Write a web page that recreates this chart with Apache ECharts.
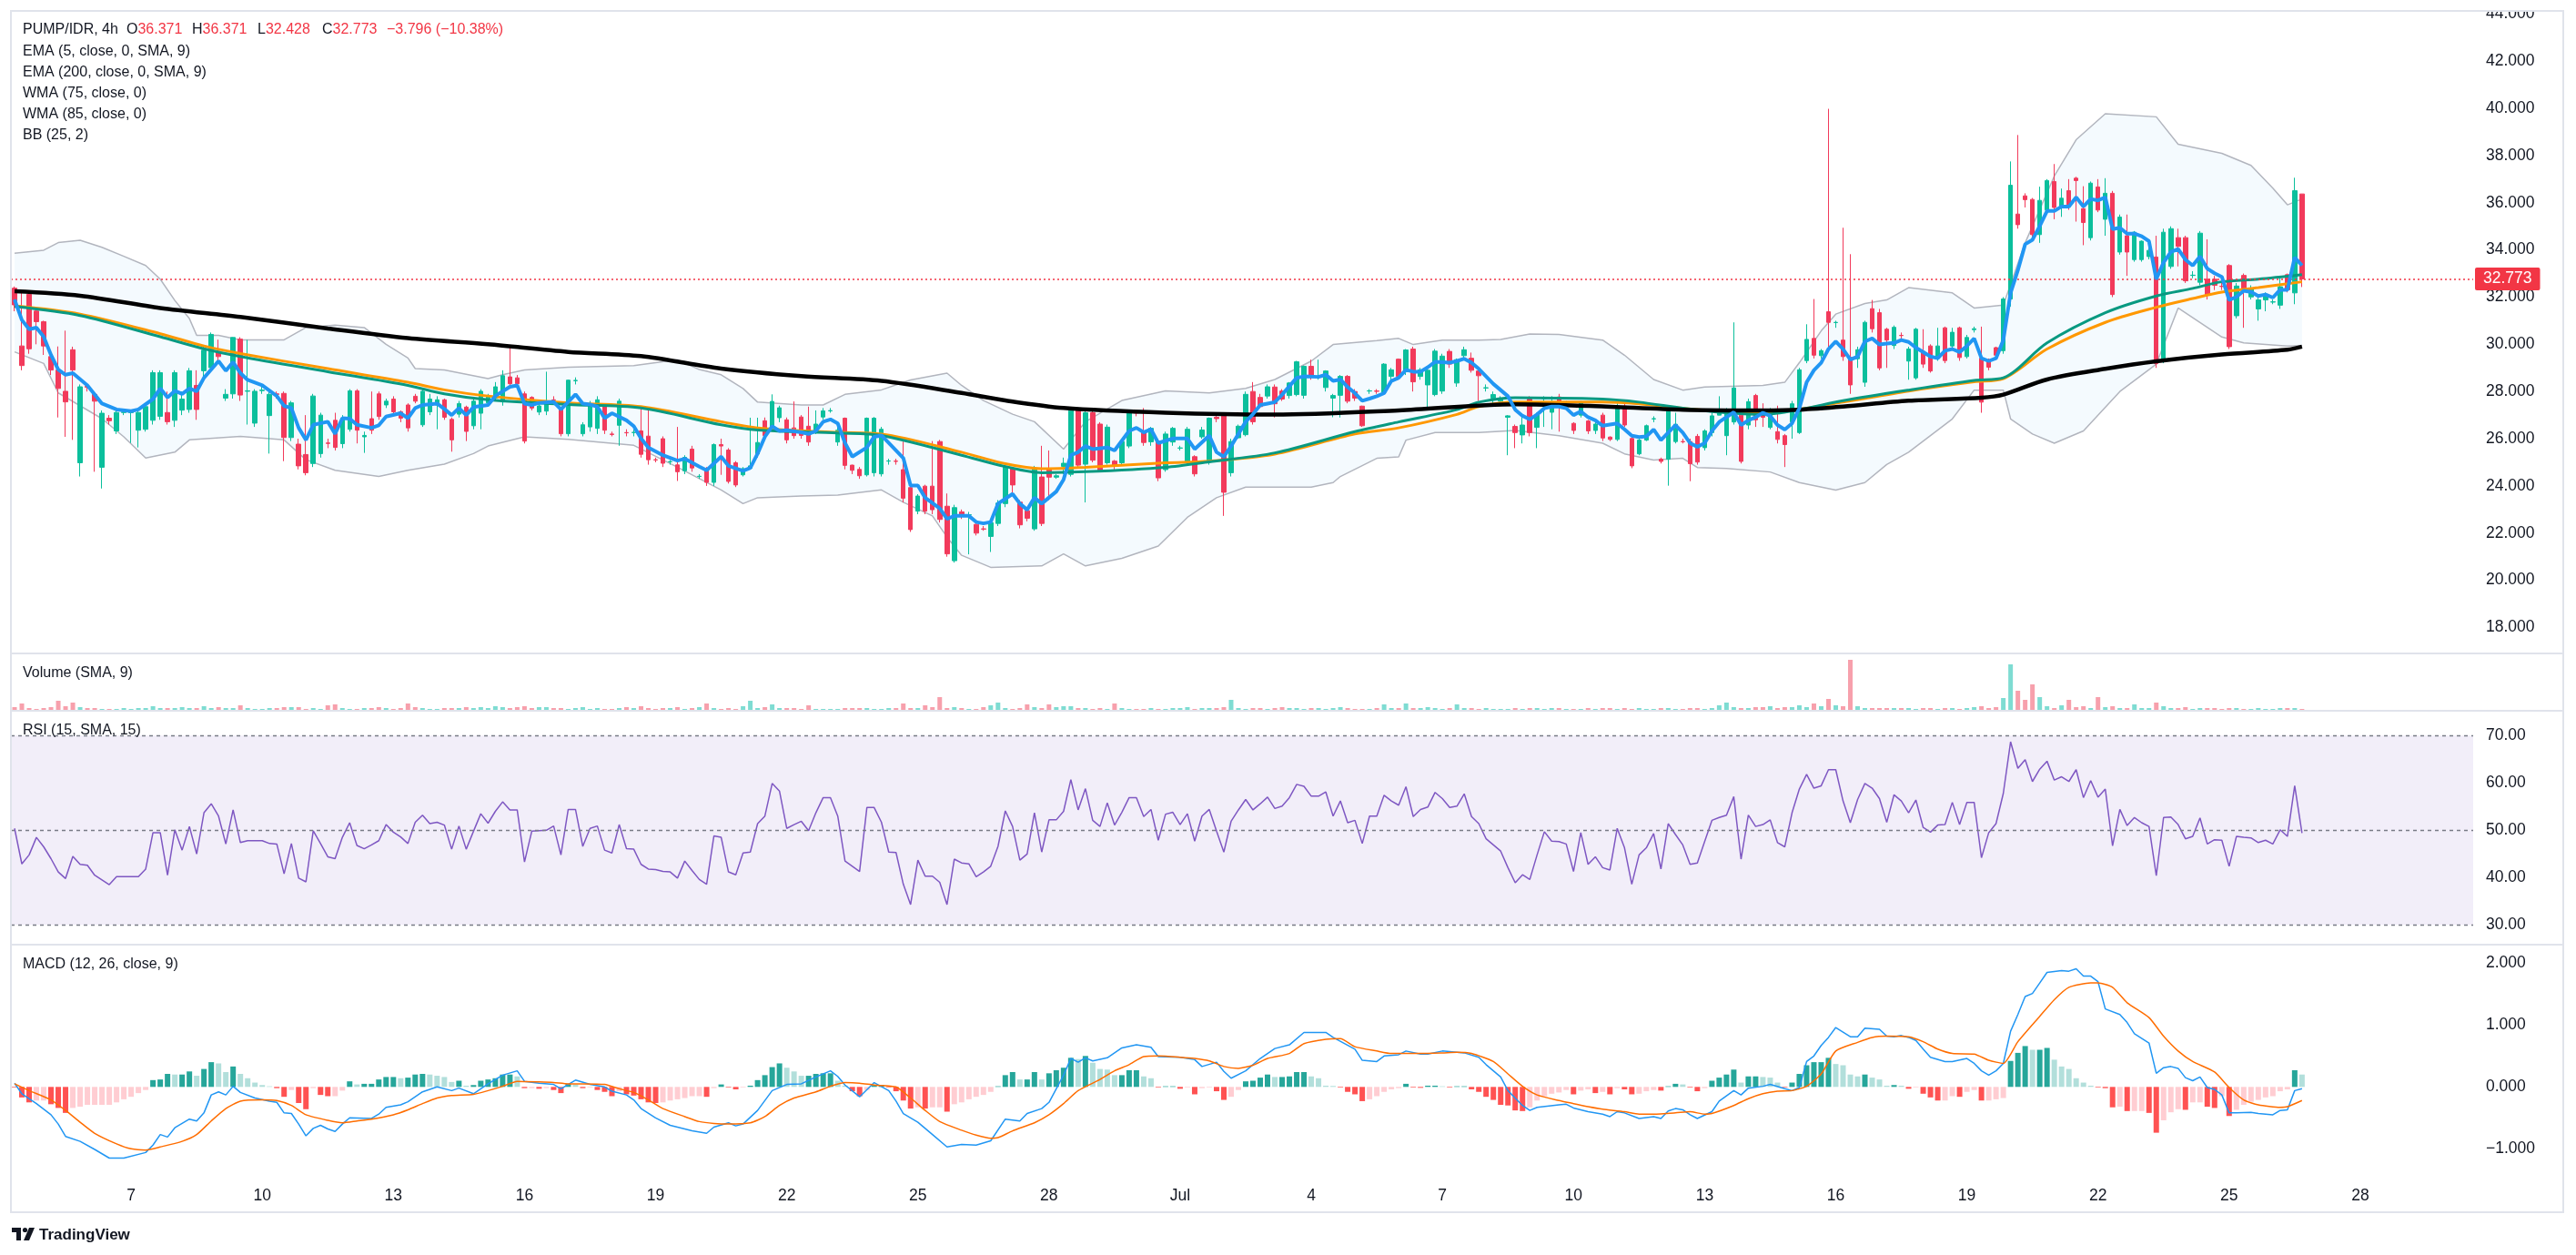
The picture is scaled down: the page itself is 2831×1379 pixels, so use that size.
<!DOCTYPE html>
<html>
<head>
<meta charset="utf-8">
<title>PUMP/IDR 4h</title>
<script src="https://cdn.jsdelivr.net/npm/echarts@6.0.0/dist/echarts.min.js"></script>
<style>
  html, body { margin: 0; padding: 0; background: #ffffff; }
  #chart { width: 2831px; height: 1379px; }
</style>
</head>
<body>
<div id="chart"></div>
<script>
// 4h candles, June 4 08:00 -> July 26 16:00 : [open, close, low, high]
var candles = [
  [32.38,31.67,31.40,32.45],[29.93,29.10,28.90,32.25],[32.12,29.81,29.60,32.20],[31.41,30.96,30.00,31.50],[30.96,29.93,29.55,31.00],
  [29.48,28.91,28.70,29.60],[28.91,28.13,26.90,29.91],[28.01,27.56,26.08,30.58],[29.77,28.91,25.95,29.90],[24.98,28.20,24.40,28.30],
  [28.22,28.18,28.00,28.30],[27.88,27.59,24.60,27.95],[24.79,27.08,23.89,27.20],[26.87,26.76,26.60,27.00],[26.33,27.11,26.20,27.20],
  [27.11,27.13,27.00,27.20],[27.11,27.12,25.82,27.20],[26.36,27.11,25.63,27.20],[26.40,27.36,26.30,27.50],[26.78,28.80,26.60,28.90],
  [26.95,28.80,26.80,28.90],[27.11,26.72,26.60,28.00],[26.78,28.80,26.50,28.90],[27.21,27.68,27.00,28.00],[27.24,28.88,27.10,29.00],
  [28.26,27.24,26.80,28.90],[28.88,29.75,28.40,29.90],[29.01,30.42,28.90,30.50],[29.70,29.48,29.20,30.20],[27.72,27.88,27.60,28.10],
  [27.90,30.29,27.70,30.30],[30.22,27.85,27.60,30.30],[28.01,28.03,26.60,30.19],[26.66,28.01,26.50,28.10],[28.04,28.06,27.90,28.20],
  [26.98,27.88,25.37,28.00],[27.90,27.88,27.70,28.00],[27.92,26.05,25.05,28.00],[26.05,27.52,25.90,27.60],[25.77,24.85,24.70,26.00],
  [25.33,24.56,24.45,27.00],[24.95,27.81,24.80,27.90],[25.37,27.00,25.20,27.10],[25.82,25.80,25.60,26.00],[26.78,25.63,25.50,27.10],
  [25.79,26.87,25.60,27.00],[26.40,28.03,26.30,28.10],[28.03,26.36,25.80,28.10],[26.08,26.14,25.40,26.30],[26.85,26.36,26.20,28.00],
  [27.90,26.94,26.80,28.00],[27.43,27.59,27.30,27.70],[27.68,27.14,27.00,27.80],[27.14,26.87,26.70,27.20],[27.43,26.46,26.30,27.50],
  [27.80,27.59,27.50,27.90],[26.59,28.01,26.50,28.10],[27.14,27.68,27.00,27.90],[27.43,27.65,26.40,27.80],[27.65,26.91,26.80,27.70],
  [26.82,25.95,25.45,26.90],[27.04,27.49,26.90,27.60],[27.34,26.31,25.90,27.40],[26.55,27.59,26.40,27.70],[27.08,28.01,26.40,28.10],
  [27.52,27.81,27.40,27.90],[27.72,28.20,27.60,28.40],[27.56,28.67,27.40,28.90],[28.62,28.33,28.20,29.91],[28.58,28.33,28.20,28.70],
  [27.90,25.90,25.80,28.00],[27.75,27.30,27.20,27.80],[27.13,27.39,27.00,27.50],[27.17,27.59,27.00,28.84],[27.65,27.64,27.50,27.80],
  [27.24,26.21,26.10,27.30],[26.21,28.48,26.10,28.50],[28.46,28.47,28.30,28.60],[26.21,26.59,26.10,26.70],[26.50,27.45,26.30,27.60],
  [26.44,27.65,26.20,27.80],[27.45,26.36,26.20,27.50],[26.20,26.18,26.10,26.30],[26.57,27.59,25.70,27.70],[26.26,26.25,26.10,26.40],
  [26.26,26.27,26.10,26.40],[26.33,25.34,25.20,27.36],[26.11,25.11,24.90,27.26],[25.11,25.10,25.00,25.20],[26.00,24.96,24.80,26.10],
  [25.02,25.03,24.90,25.10],[24.89,24.60,24.21,26.50],[24.64,25.21,24.50,25.30],[25.56,24.76,24.60,25.70],[24.40,24.41,24.30,24.50],
  [24.75,24.15,24.00,24.80],[24.15,25.75,24.00,25.80],[25.75,25.69,24.47,26.00],[25.52,24.19,24.10,25.60],[24.98,24.04,23.95,25.05],
  [24.47,24.73,24.40,24.80],[24.75,24.85,24.70,26.89],[25.36,25.84,25.20,26.89],[26.76,26.13,26.00,26.90],[26.40,27.58,26.30,27.88],
  [26.89,27.31,26.70,27.40],[26.80,25.95,25.80,26.90],[26.46,26.13,26.00,27.58],[26.92,26.14,26.00,27.00],[26.53,25.86,25.70,27.36],
  [26.33,26.62,26.20,27.20],[26.92,27.18,26.80,27.30],[27.18,27.19,27.10,27.30],[25.86,26.36,25.70,26.50],[26.87,24.87,24.70,26.90],
  [24.88,24.66,24.50,24.90],[24.70,24.43,24.30,24.80],[24.47,26.87,24.40,26.90],[24.56,26.87,24.40,26.92],[24.51,26.40,24.40,26.50],
  [25.05,25.06,24.90,25.15],[25.05,25.04,24.90,25.15],[24.69,23.48,23.30,25.88],[23.93,22.15,22.05,24.00],[22.93,23.57,22.80,23.65],
  [23.99,22.93,22.80,24.05],[23.99,22.99,22.80,25.90],[25.88,22.58,22.45,25.95],[23.14,21.12,21.00,23.68],[20.83,23.08,20.75,23.20],
  [22.90,22.77,22.60,23.00],[22.77,22.78,21.10,22.90],[22.37,22.00,21.90,22.50],[22.18,22.17,22.10,22.30],[21.86,22.44,21.20,22.50],
  [22.41,23.27,22.30,23.40],[23.25,24.83,23.10,24.90],[24.73,24.04,23.60,24.80],[23.31,22.35,22.20,23.40],[22.95,22.63,22.50,23.00],
  [22.18,24.73,22.10,24.85],[24.38,22.41,22.30,25.70],[24.75,24.37,23.40,25.50],[24.37,24.43,24.30,24.50],[24.83,24.96,24.50,25.20],
  [24.49,27.19,24.40,27.30],[27.19,24.88,24.80,27.30],[24.92,27.10,23.30,27.20],[27.10,25.09,25.00,27.20],[26.62,24.66,24.60,26.70],
  [24.98,26.49,24.90,26.60],[25.05,24.85,24.70,25.10],[24.98,25.88,24.90,26.00],[25.69,27.10,25.60,27.20],[27.10,27.09,26.95,27.20],
  [26.27,25.84,25.70,27.30],[25.87,26.44,25.70,26.50],[25.88,24.34,24.20,26.00],[24.69,26.20,24.60,26.30],[25.86,26.44,25.70,26.50],
  [25.60,25.61,25.50,25.70],[25.02,26.40,24.90,26.50],[25.24,24.51,24.40,25.30],[26.08,26.37,26.00,26.50],[25.02,26.87,24.90,26.90],
  [26.91,26.85,26.70,27.00],[27.00,23.73,22.73,27.10],[24.56,25.88,24.40,26.00],[26.04,26.53,26.00,26.60],[26.17,27.88,26.10,28.00],
  [28.00,26.72,26.60,28.40],[27.75,27.36,27.30,27.90],[27.81,28.20,27.70,28.30],[28.19,27.48,26.90,28.30],[28.02,27.68,27.60,28.10],
  [27.83,28.36,27.70,28.40],[27.87,29.26,27.80,29.30],[27.84,29.07,27.70,29.10],[29.07,28.62,28.50,29.35],[28.64,28.65,28.50,29.35],
  [28.17,28.87,28.00,28.90],[27.72,27.83,26.91,27.90],[27.84,28.64,26.90,28.70],[28.64,27.59,27.50,28.70],[28.00,27.72,27.60,28.10],
  [27.38,26.55,26.50,27.40],[28.02,28.03,27.90,28.10],[28.02,28.01,27.90,28.10],[27.97,29.16,27.90,29.20],[28.64,28.92,28.50,29.00],
  [29.37,28.64,28.50,29.40],[28.84,29.76,28.70,29.80],[29.80,28.41,28.00,29.90],[28.64,28.92,28.50,29.00],[28.28,28.90,27.20,29.00],
  [27.87,29.71,27.80,29.80],[28.02,29.50,27.90,29.60],[29.70,29.16,29.00,29.80],[28.36,29.35,28.20,29.40],[29.52,29.77,29.40,29.90],
  [29.41,28.90,28.80,29.65],[28.87,28.67,27.60,28.90],[28.15,28.16,28.00,28.30],[27.72,27.87,27.50,28.00],[27.59,27.72,27.40,27.80],
  [26.91,26.97,25.30,27.00],[26.52,26.26,25.60,26.60],[26.16,26.58,25.80,27.00],[27.68,26.26,26.10,27.80],[26.48,27.01,25.60,27.10],
  [27.70,27.71,26.50,27.80],[27.12,27.45,26.40,27.80],[27.77,27.42,26.30,27.90],[27.42,27.43,27.30,27.60],[26.65,26.35,26.20,26.70],
  [27.00,27.55,26.90,27.60],[26.75,26.33,26.20,26.80],[26.35,26.62,26.20,26.70],[27.00,26.03,25.90,27.10],[26.07,25.97,25.90,26.10],
  [25.97,27.38,25.90,27.50],[27.38,26.58,26.50,27.50],[26.01,24.85,24.75,26.10],[25.36,25.94,25.30,26.00],[25.94,26.55,25.90,26.60],
  [26.84,26.85,26.70,26.95],[25.13,25.04,24.95,25.20],[25.13,27.16,24.01,27.20],[25.88,26.61,25.80,27.10],[25.88,25.87,25.80,26.00],
  [25.88,24.94,24.20,26.00],[26.10,25.01,24.90,26.20],[25.62,26.33,25.50,26.40],[26.26,26.97,26.10,27.10],[27.00,27.23,27.00,27.80],
  [26.13,27.23,25.30,27.30],[26.71,28.15,26.60,30.93],[27.00,25.04,24.95,27.20],[26.58,27.57,26.40,27.70],[27.83,26.80,26.50,27.90],
  [27.25,26.91,26.50,27.50],[26.48,27.23,26.40,27.30],[26.30,25.97,25.80,27.40],[26.13,25.75,24.80,26.20],[26.71,27.48,26.00,27.60],
  [26.26,28.92,26.20,29.00],[29.31,30.21,29.20,30.85],[30.25,29.54,29.40,31.92],[29.52,29.73,29.40,29.80],[31.38,30.93,29.70,39.98],
  [30.92,30.93,30.70,31.00],[30.18,29.48,29.30,34.94],[29.45,28.28,27.90,33.82],[29.39,29.77,29.00,29.90],[28.39,30.93,28.20,31.00],
  [31.51,30.66,30.50,31.88],[31.34,29.00,28.90,31.50],[30.64,30.18,29.00,30.70],[29.95,30.72,29.80,30.80],[30.38,30.37,30.20,30.50],
  [29.29,29.80,28.50,29.90],[28.58,30.64,28.50,30.70],[29.70,29.16,29.00,30.64],[29.93,28.87,28.80,30.00],[29.41,29.93,29.30,30.70],
  [30.70,29.31,29.20,30.75],[29.93,30.51,29.80,30.70],[30.70,29.44,29.30,30.75],[29.48,30.29,29.40,30.40],[30.62,30.66,30.50,30.75],
  [29.41,27.55,27.10,30.75],[29.35,29.03,28.90,29.40],[29.86,29.54,29.40,29.90],[29.73,31.92,29.60,32.00],[31.92,36.74,31.60,37.75],
  [35.52,35.07,34.90,38.87],[36.29,36.13,35.80,36.40],[36.14,34.65,34.50,36.20],[34.65,36.10,34.30,36.68],[35.69,36.94,35.60,37.00],
  [36.90,35.80,35.30,37.64],[35.80,36.19,35.40,36.60],[36.51,35.84,35.70,37.00],[37.04,36.94,35.20,37.10],[35.75,35.16,34.20,36.70],
  [34.52,36.83,34.40,36.90],[36.67,35.69,35.60,37.00],[35.30,36.40,34.60,37.04],[36.40,32.11,32.00,36.50],[33.91,35.39,33.80,35.50],
  [34.60,33.91,32.90,35.50],[33.59,34.75,33.50,34.80],[33.59,34.37,33.50,34.40],[33.72,33.98,33.60,34.10],[33.70,29.18,29.00,34.60],
  [29.35,34.75,29.20,34.90],[33.30,34.90,33.20,35.00],[34.52,34.15,33.30,34.90],[34.52,32.69,32.60,34.60],[32.92,32.93,32.80,33.10],
  [32.63,34.71,32.50,34.80],[32.76,32.08,31.90,34.45],[32.76,32.50,32.30,32.90],[32.46,32.45,32.30,32.60],[33.34,29.90,29.80,33.40],
  [31.21,32.47,31.10,32.60],[32.92,32.37,30.70,33.00],[32.01,32.35,31.90,32.50],[31.50,31.88,31.00,32.10],[31.88,32.09,31.40,32.20],
  [31.79,31.80,31.70,31.90],[31.66,32.44,31.50,32.90],[32.95,32.31,32.20,33.00],[32.18,36.51,31.70,37.06],[36.371,32.773,32.428,36.371]
];

var volumes = [
  4,8,3,2,3,4,11,5,9,4, 3,3,2,2,2,3,2,3,3,5, 3,3,3,4,3,3,5,3,4,3, 3,6,3,2,2,3,3,4,4,4,
  2,3,2,6,7,3,2,2,3,3, 4,3,2,3,8,4,3,2,2,3, 3,3,4,3,4,3,5,4,3,4, 5,3,4,4,3,3,2,3,4,2,
  3,2,2,3,4,3,5,3,2,3, 3,4,2,3,4,8,3,2,3,2, 5,11,3,4,7,3,3,3,2,6, 2,2,2,2,3,3,3,3,2,2,
  3,3,8,3,3,6,4,15,3,4, 3,2,2,4,6,9,3,2,3,7, 4,3,7,4,5,5,3,3,2,3, 2,8,3,2,2,2,3,2,2,3,
  3,4,2,3,3,3,4,12,3,2, 3,3,2,3,4,3,3,2,3,3, 2,3,4,3,2,2,2,3,7,3, 3,8,3,3,4,3,2,3,7,3,
  3,2,3,2,2,2,3,2,3,3, 2,3,3,2,2,2,3,2,3,3, 2,3,2,3,2,2,3,3,2,2, 3,3,2,3,6,9,4,3,3,4,
  4,5,3,4,4,6,4,8,5,13, 6,5,56,5,3,3,3,3,3,3, 3,2,3,3,2,3,3,2,3,4, 5,3,4,14,51,22,12,29,15,5,
  3,6,12,4,5,3,15,4,5,3, 3,7,3,3,9,5,3,3,4,2, 3,3,3,2,3,3,2,2,3,2, 2,3,3,3,2
];

var ema5 = [
  [0,31.90],[1,31.03],[2,30.64],[3,30.71],[4,30.32],[5,29.55],[6,28.93],[7,28.71],[8,28.78],[9,28.52],[10,28.26],[12,27.49],
  [14,27.24],[16,27.17],[17,27.24],[19,27.68],[20,28.13],[21,27.75],[22,28.03],[23,27.90],[24,28.13],[25,28.01],[26,28.58],
  [28,29.29],[29,28.88],[30,29.25],[31,28.78],[32,28.49],[34,28.26],[36,27.81],[37,27.39],[38,27.30],[39,26.46],[40,25.95],
  [41,26.59],[43,26.72],[44,26.21],[45,26.87],[46,26.85],[47,26.59],[49,26.46],[50,26.57],[51,26.94],[53,27.08],[54,26.87],
  [55,27.30],[56,27.43],[58,27.49],[59,27.26],[60,27.00],[61,27.30],[62,27.00],[63,27.34],[65,27.43],[66,27.81],[67,28.01],
  [68,28.20],[69,28.26],[70,27.49],[71,27.43],[72,27.52],[74,27.56],[75,27.24],[77,27.88],[78,27.49],[79,27.45],[80,27.36],
  [81,26.87],[82,27.08],[84,26.78],[85,26.53],[86,26.01],[87,25.63],[89,25.30],[91,25.07],[92,25.15],[94,24.82],[95,24.66],
  [97,25.24],[98,24.85],[100,24.64],[101,24.76],[102,25.37],[103,26.08],[104,26.53],[105,26.33],[106,26.36],[108,26.27],
  [109,26.20],[110,26.33],[111,26.72],[112,26.82],[113,26.65],[114,25.82],[115,25.24],[117,25.63],[118,26.08],[119,26.14],
  [120,25.82],[122,25.18],[123,24.02],[124,24.02],[125,23.50],[127,23.05],[128,22.60],[129,22.73],[131,22.73],[132,22.47],
  [133,22.41],[134,22.47],[135,23.25],[137,23.66],[138,23.25],[139,22.99],[140,23.50],[141,23.25],[143,23.76],[144,24.27],
  [145,25.30],[146,25.43],[147,25.69],[148,25.56],[150,25.63],[151,25.50],[153,26.33],[154,26.46],[155,26.27],[156,26.40],
  [157,25.82],[159,26.01],[161,26.01],[162,25.56],[164,26.14],[165,25.43],[166,25.24],[167,25.69],[168,26.20],[169,26.72],
  [170,27.04],[171,27.43],[172,27.49],[173,27.55],[174,27.87],[176,28.58],[177,28.64],[179,28.62],[180,28.71],[181,28.45],
  [182,28.51],[183,28.19],[184,27.93],[185,27.61],[186,27.70],[187,27.80],[188,27.93],[189,28.45],[190,28.58],[191,28.92],
  [192,28.84],[193,28.84],[194,29.03],[195,29.26],[197,29.22],[198,29.29],[199,29.39],[200,29.22],[201,28.96],[202,28.64],
  [203,28.32],[205,27.80],[206,27.23],[207,26.97],[208,26.82],[209,27.03],[210,27.29],[211,27.36],[212,27.36],[213,27.29],
  [214,27.00],[215,27.16],[216,26.91],[217,26.78],[218,26.55],[219,26.60],[220,26.65],[221,26.40],[222,26.13],[223,26.07],
  [224,26.10],[225,26.39],[226,25.94],[228,26.58],[229,26.26],[230,25.81],[231,25.66],[232,25.81],[233,26.33],[234,26.71],
  [236,27.12],[237,26.58],[238,26.78],[239,26.91],[240,27.10],[241,26.97],[242,26.58],[243,26.39],[244,26.65],[245,27.29],
  [246,28.39],[247,28.90],[248,29.22],[249,29.80],[250,30.12],[251,29.80],[252,29.35],[253,29.48],[254,30.12],[255,30.25],
  [256,29.99],[257,30.03],[258,30.06],[259,30.18],[260,30.10],[261,29.86],[263,29.48],[264,29.41],[265,29.73],[266,29.80],
  [267,29.67],[268,29.93],[269,30.25],[270,29.41],[271,29.29],[272,29.41],[273,30.18],[274,32.18],[275,33.14],[276,34.24],
  [277,34.43],[278,35.01],[279,35.65],[280,35.65],[281,35.84],[282,35.84],[283,36.23],[284,35.84],[285,36.16],[286,36.10],
  [287,36.23],[288,34.88],[289,34.94],[290,34.69],[291,34.69],[292,34.58],[293,34.37],[294,32.76],[295,33.47],[296,33.91],
  [297,34.04],[298,33.59],[299,33.34],[300,33.72],[301,33.21],[302,33.01],[303,32.86],[304,31.88],[305,32.01],[306,32.27],
  [307,32.22],[308,32.05],[309,32.11],[310,31.98],[311,32.31],[312,32.31],[313,33.68],[314,33.34]
];

var ema200 = [
  [0,32.25],[9,32.06],[20,31.54],[31,31.16],[43,30.67],[54,30.26],[65,30.00],[76,29.68],[86,29.50],[97,28.97],[108,28.65],
  [119,28.45],[130,27.94],[136,27.62],[144,27.30],[158,27.10],[173,27.02],[190,27.20],[206,27.46],[217,27.38],[229,27.23],
  [240,27.20],[245,27.23],[251,27.36],[260,27.61],[270,27.74],[273,27.87],[279,28.51],[287,28.96],[294,29.28],[303,29.57],
  [312,29.77],[314,29.90]
];

var wma75 = [
  [0,31.60],[9,31.22],[20,30.32],[26,29.81],[31,29.48],[43,28.84],[54,28.26],[59,27.90],[65,27.65],[76,27.45],[86,27.30],
  [97,26.59],[102,26.37],[113,26.24],[119,26.14],[130,25.30],[136,24.82],[141,24.56],[147,24.60],[158,24.79],[164,25.02],
  [173,25.40],[184,26.30],[190,26.71],[198,27.23],[201,27.55],[206,27.74],[218,27.68],[223,27.55],[229,27.29],[234,27.12],
  [240,27.03],[245,27.23],[251,27.61],[260,28.06],[269,28.47],[273,28.58],[279,30.06],[287,31.34],[294,32.05],[299,32.37],
  [303,32.65],[308,32.76],[314,32.95]
];

var wma85 = [
  [0,31.63],[9,31.28],[20,30.45],[26,29.93],[31,29.61],[43,28.97],[54,28.39],[59,28.07],[65,27.81],[76,27.52],[86,27.36],
  [97,26.72],[102,26.46],[113,26.27],[119,26.20],[130,25.43],[136,24.94],[141,24.73],[147,24.79],[158,24.98],[164,25.05],
  [173,25.35],[184,26.20],[190,26.46],[198,27.03],[201,27.36],[206,27.55],[218,27.55],[223,27.48],[229,27.29],[234,27.16],
  [240,27.10],[245,27.25],[251,27.55],[260,28.02],[269,28.41],[273,28.54],[279,29.80],[287,30.93],[294,31.57],[299,31.94],
  [303,32.21],[308,32.40],[314,32.65]
];

var bbUpper = [
  [0,33.86],[4,33.99],[6,34.31],[9,34.41],[12,34.11],[15,33.73],[18,33.34],[20,32.76],[22,31.86],[24,31.09],[25,30.38],
  [28,30.38],[31,30.19],[37,30.19],[40,30.71],[44,30.81],[48,30.71],[51,30.00],[54,29.42],[55,28.97],[59,28.91],[65,28.55],
  [67,28.71],[70,28.91],[76,29.03],[85,29.10],[91,29.35],[94,28.93],[97,28.71],[100,28.13],[102,27.55],[108,27.43],[111,27.43],
  [114,27.88],[119,28.07],[123,28.49],[128,28.78],[130,28.26],[133,27.62],[137,27.04],[140,26.72],[144,25.56],[147,26.72],
  [152,27.62],[158,28.03],[164,27.94],[169,28.13],[173,28.51],[178,29.29],[181,29.99],[187,30.16],[190,30.25],[192,29.99],
  [196,30.18],[201,30.18],[204,30.21],[208,30.44],[212,30.42],[218,30.18],[221,29.54],[225,28.51],[229,28.06],[232,28.19],
  [240,28.26],[243,28.39],[245,29.22],[248,30.57],[250,31.28],[254,31.73],[257,31.88],[260,32.40],[266,32.18],[269,31.54],
  [273,31.66],[276,34.30],[280,37.13],[283,38.67],[287,39.77],[294,39.64],[297,38.48],[303,38.09],[307,37.58],[310,36.62],
  [312,35.91],[314,36.16]
];

var bbLower = [
  [0,29.68],[4,29.19],[6,27.94],[12,26.85],[15,26.08],[18,25.18],[22,25.43],[24,25.95],[31,26.10],[37,25.95],[40,25.11],
  [44,24.66],[50,24.40],[54,24.66],[59,24.92],[63,25.37],[65,25.69],[70,26.08],[76,25.97],[85,25.72],[91,24.79],[97,23.83],
  [100,23.25],[102,23.50],[108,23.57],[113,23.61],[119,23.83],[122,23.31],[126,22.73],[128,21.83],[130,21.06],[134,20.55],
  [141,20.61],[144,21.12],[147,20.61],[152,20.93],[157,21.45],[161,22.67],[165,23.50],[169,23.95],[173,23.95],[178,23.95],
  [181,24.14],[182,24.40],[187,25.17],[190,25.23],[191,25.94],[195,26.26],[201,26.26],[206,26.35],[212,26.13],[218,25.81],
  [221,25.36],[225,25.10],[229,25.17],[231,24.78],[235,24.74],[241,24.59],[245,24.14],[250,23.82],[254,24.14],[257,24.91],
  [260,25.43],[266,26.84],[269,28.06],[273,28.06],[274,26.84],[277,26.20],[280,25.81],[284,26.33],[289,28.00],[294,29.16],
  [297,31.54],[303,30.31],[306,30.06],[312,29.93],[314,29.95]
];

var rsi = [
  50.4,42.9,44.8,48.5,46.5,44.0,41.2,39.8,44.5,42.8, 42.6,40.5,39.5,38.5,40.2,40.2,40.2,40.2,41.8,49.5,
  49.5,40.5,50.1,45.8,50.8,45.0,53.7,55.6,53.0,47.1, 54.3,47.4,47.8,47.8,47.8,47.2,47.1,40.8,47.2,39.9,
  39.1,49.9,47.2,44.4,44.0,48.5,51.6,46.8,46.1,46.9, 47.8,51.2,49.6,48.6,47.2,51.7,53.2,51.4,51.7,51.1,
  46.0,50.9,46.0,49.8,53.5,51.5,54.0,56.0,54.3,54.3, 43.3,49.8,49.9,50.0,50.9,44.8,54.4,54.4,46.6,50.4,
  50.9,45.8,45.2,51.2,46.1,46.0,42.8,41.8,41.7,41.3, 41.2,39.9,43.5,41.5,39.6,38.6,48.8,48.5,41.2,40.6,
  45.2,45.4,51.4,53.0,59.9,58.3,50.4,51.2,51.9,49.9, 53.7,56.9,56.9,53.0,43.5,42.4,41.3,54.8,54.8,51.7,
  45.4,45.3,38.6,34.3,43.7,40.3,40.3,39.0,34.3,43.9, 43.1,42.9,40.2,41.2,42.4,46.6,54.1,50.8,43.7,45.0,
  53.7,45.4,52.2,52.2,54.0,60.7,54.3,58.8,52.1,50.8, 55.8,51.1,53.8,56.9,56.9,52.9,54.4,47.9,53.4,53.8,
  51.2,53.5,47.7,53.0,54.4,49.8,45.4,51.9,54.3,56.5, 54.3,55.6,57.0,54.6,55.1,56.9,59.7,59.3,57.2,57.2,
  58.1,53.0,56.2,51.6,52.1,47.2,53.0,53.0,57.4,56.2, 55.3,59.2,52.9,54.4,54.9,58.0,56.7,54.8,55.1,57.7,
  52.9,51.4,48.2,46.9,45.6,42.1,38.9,40.6,39.6,44.8, 49.7,47.7,47.6,47.1,41.3,49.5,42.8,44.4,42.1,41.6,
  50.4,46.3,38.6,44.8,46.3,49.3,41.8,51.4,49.1,46.9, 42.8,43.1,47.6,52.1,52.7,53.2,57.1,43.9,53.2,50.8,
  51.2,52.2,47.4,46.5,53.7,58.7,61.8,58.9,59.4,62.8, 62.8,56.2,51.6,56.5,59.9,58.9,56.7,51.7,57.5,56.2,
  53.7,56.4,50.6,49.6,51.1,51.2,55.9,51.2,55.9,55.9, 44.2,49.5,51.4,57.8,68.7,63.1,64.9,60.3,62.9,64.6,
  60.6,61.3,60.3,62.8,56.9,60.5,57.0,58.7,46.7,54.4, 51.0,52.7,51.6,50.8,40.4,52.7,52.8,51.2,48.2,48.7,
  52.6,47.1,48.0,47.9,42.4,48.7,48.5,48.4,47.4,47.9, 47.1,50.1,48.7,59.4,49.4
];

var macdHist = [
  -0.01,-0.17,-0.25,-0.22,-0.22,-0.28,-0.34,-0.42,-0.34,-0.32, -0.29,-0.29,-0.29,-0.29,-0.25,-0.20,-0.16,-0.10,-0.05,0.11,
  0.12,0.21,0.20,0.20,0.25,0.18,0.29,0.40,0.38,0.24, 0.33,0.21,0.14,0.07,0.03,0.01,-0.02,-0.16,-0.05,-0.26,
  -0.36,-0.02,-0.13,-0.15,-0.15,-0.06,0.09,0.04,0.05,0.05, 0.12,0.16,0.16,0.14,0.15,0.20,0.21,0.20,0.18,0.16,
  0.08,0.10,0.02,0.03,0.10,0.12,0.14,0.20,0.20,0.17, -0.02,-0.02,-0.03,-0.02,-0.05,-0.10,0.05,0.04,-0.02,-0.01,
  -0.05,-0.08,-0.15,-0.07,-0.12,-0.14,-0.20,-0.25,-0.26,-0.25, -0.22,-0.20,-0.18,-0.15,-0.15,-0.16,-0.02,0.04,-0.01,-0.04,
  -0.01,0.02,0.11,0.19,0.32,0.38,0.31,0.25,0.18,0.18, 0.21,0.22,0.22,0.10,0.02,-0.07,-0.15,-0.05,0.03,0.03,
  -0.01,-0.07,-0.22,-0.35,-0.33,-0.35,-0.33,-0.33,-0.40,-0.28, -0.25,-0.20,-0.16,-0.13,-0.08,0.01,0.19,0.24,0.12,0.12,
  0.24,0.12,0.22,0.27,0.31,0.47,0.45,0.50,0.39,0.29, 0.28,0.19,0.19,0.27,0.27,0.17,0.14,-0.01,0.01,0.01,
  -0.03,-0.01,-0.12,-0.02,-0.01,-0.07,-0.21,-0.16,-0.05,0.09, 0.10,0.15,0.20,0.16,0.16,0.17,0.24,0.24,0.17,0.14,
  0.02,0.015,-0.01,-0.08,-0.12,-0.23,-0.20,-0.15,-0.08,-0.04, -0.02,0.05,-0.01,-0.015,0.02,0.02,0.01,-0.01,0.01,0.01,
  -0.04,-0.08,-0.16,-0.21,-0.29,-0.30,-0.38,-0.39,-0.33,-0.22, -0.15,-0.11,-0.09,-0.05,-0.12,-0.06,-0.04,-0.10,-0.08,-0.12,
  -0.02,-0.04,-0.12,-0.11,-0.07,-0.05,-0.06,0.01,0.05,0.04, -0.01,-0.07,-0.02,0.10,0.15,0.20,0.28,0.07,0.17,0.17,
  0.16,0.15,0.07,-0.01,0.07,0.21,0.35,0.40,0.40,0.47, 0.37,0.35,0.20,0.17,0.20,0.15,0.12,0.02,0.03,0.02,
  -0.03,-0.01,-0.11,-0.17,-0.22,-0.22,-0.15,-0.16,-0.08,-0.05, -0.22,-0.22,-0.20,-0.18,0.42,0.55,0.66,0.60,0.60,0.63,
  0.44,0.33,0.29,0.14,0.07,0.02,-0.01,-0.02,-0.33,-0.32, -0.39,-0.39,-0.39,-0.42,-0.74,-0.54,-0.41,-0.36,-0.37,-0.25,
  -0.25,-0.32,-0.34,-0.15,-0.47,-0.37,-0.29,-0.24,-0.21,-0.17, -0.15,-0.07,-0.04,0.27,0.20
];

var macdLine = [
  [0,0.06],[1,-0.11],[3,-0.27],[5,-0.45],[6,-0.60],[7,-0.80],[9,-0.88],[11,-1.01],[13,-1.15],[15,-1.15],[18,-1.06],[19,-0.94],
  [20,-0.77],[21,-0.81],[22,-0.66],[24,-0.52],[25,-0.55],[26,-0.42],[27,-0.13],[28,-0.08],[29,-0.13],[30,0.01],[31,-0.09],
  [33,-0.18],[35,-0.23],[36,-0.25],[37,-0.42],[38,-0.43],[39,-0.60],[40,-0.79],[41,-0.67],[42,-0.62],[43,-0.68],[44,-0.72],
  [45,-0.60],[46,-0.50],[49,-0.51],[50,-0.44],[51,-0.33],[53,-0.29],[54,-0.24],[56,-0.08],[58,0.00],[60,-0.06],[61,-0.02],
  [63,-0.11],[65,0.05],[67,0.19],[69,0.26],[70,0.09],[72,0.06],[74,0.04],[75,-0.03],[77,0.11],[79,0.04],[81,0.00],[82,-0.07],
  [84,-0.13],[85,-0.21],[86,-0.35],[88,-0.50],[90,-0.62],[93,-0.71],[95,-0.75],[96,-0.65],[98,-0.58],[99,-0.63],[100,-0.60],
  [102,-0.38],[104,-0.06],[106,0.04],[108,0.05],[110,0.16],[112,0.26],[113,0.17],[114,0.03],[116,-0.16],[118,0.07],[120,-0.06],
  [121,-0.23],[122,-0.43],[124,-0.57],[126,-0.77],[128,-0.97],[130,-0.93],[132,-0.94],[134,-0.87],[136,-0.52],[138,-0.55],
  [139,-0.43],[141,-0.35],[142,-0.25],[144,0.19],[145,0.46],[146,0.40],[147,0.47],[148,0.42],[150,0.47],[152,0.63],[154,0.68],
  [156,0.64],[157,0.49],[160,0.48],[162,0.44],[163,0.33],[165,0.40],[166,0.25],[167,0.14],[169,0.26],[171,0.46],[173,0.62],
  [175,0.68],[177,0.88],[180,0.88],[181,0.80],[184,0.61],[185,0.43],[187,0.41],[188,0.50],[190,0.52],[191,0.58],[193,0.53],
  [194,0.53],[196,0.58],[199,0.55],[201,0.48],[202,0.36],[204,0.16],[205,-0.06],[207,-0.30],[208,-0.38],[209,-0.33],
  [212,-0.29],[213,-0.28],[214,-0.34],[216,-0.40],[218,-0.44],[219,-0.48],[220,-0.40],[221,-0.42],[223,-0.51],[225,-0.48],
  [226,-0.51],[227,-0.39],[228,-0.35],[229,-0.37],[230,-0.45],[231,-0.51],[233,-0.40],[234,-0.23],[236,-0.06],[237,-0.13],
  [238,-0.02],[240,0.01],[241,0.04],[243,-0.03],[244,-0.06],[245,-0.01],[246,0.41],[247,0.50],[248,0.67],[249,0.80],[250,0.96],
  [252,0.81],[253,0.81],[254,0.95],[256,0.93],[257,0.82],[258,0.81],[259,0.83],[260,0.80],[261,0.75],[262,0.61],[263,0.48],
  [265,0.41],[266,0.41],[268,0.46],[269,0.38],[270,0.26],[271,0.19],[272,0.26],[273,0.38],[274,0.90],[275,1.17],[276,1.46],
  [277,1.51],[278,1.68],[279,1.85],[281,1.88],[282,1.87],[283,1.91],[284,1.79],[285,1.79],[286,1.70],[287,1.26],[289,1.17],
  [290,1.04],[291,0.86],[293,0.71],[294,0.22],[295,0.31],[296,0.33],[297,0.30],[298,0.15],[299,0.10],[300,0.16],[301,-0.01],
  [302,-0.04],[303,-0.13],[304,-0.42],[305,-0.42],[307,-0.41],[308,-0.43],[310,-0.45],[311,-0.38],[312,-0.37],[313,-0.06],
  [314,-0.03]
];

var signalLine = [
  [0,0.05],[2,-0.06],[5,-0.21],[7,-0.38],[9,-0.57],[11,-0.75],[14,-0.92],[16,-1.00],[18,-1.02],[20,-0.97],[23,-0.88],
  [25,-0.77],[27,-0.55],[29,-0.35],[31,-0.23],[34,-0.21],[36,-0.22],[38,-0.30],[40,-0.45],[43,-0.54],[45,-0.58],[47,-0.55],
  [49,-0.52],[52,-0.45],[54,-0.37],[56,-0.27],[58,-0.18],[60,-0.14],[63,-0.12],[65,-0.06],[67,0.01],[69,0.09],[72,0.08],
  [74,0.07],[76,0.05],[78,0.05],[81,0.04],[83,-0.03],[85,-0.09],[87,-0.21],[89,-0.35],[92,-0.48],[94,-0.56],[96,-0.59],
  [98,-0.60],[101,-0.58],[103,-0.48],[105,-0.30],[107,-0.18],[110,-0.08],[112,0.01],[114,0.07],[116,0.06],[118,0.03],
  [121,0.00],[123,-0.18],[125,-0.38],[127,-0.56],[130,-0.70],[132,-0.78],[134,-0.83],[135,-0.82],[137,-0.71],[140,-0.58],
  [142,-0.45],[144,-0.27],[146,-0.06],[149,0.12],[151,0.26],[153,0.36],[155,0.49],[157,0.50],[160,0.48],[162,0.46],
  [164,0.42],[166,0.33],[168,0.30],[170,0.35],[172,0.46],[175,0.54],[177,0.70],[180,0.77],[182,0.78],[184,0.65],[187,0.58],
  [189,0.54],[191,0.54],[193,0.54],[196,0.55],[198,0.56],[200,0.54],[203,0.41],[205,0.21],[207,0.01],[209,-0.13],[212,-0.22],
  [214,-0.27],[216,-0.32],[218,-0.36],[221,-0.40],[223,-0.44],[225,-0.44],[228,-0.42],[230,-0.40],[232,-0.44],[233,-0.43],
  [236,-0.30],[238,-0.19],[240,-0.11],[242,-0.07],[244,-0.06],[246,0.01],[248,0.21],[250,0.58],[253,0.72],[255,0.80],
  [257,0.82],[260,0.81],[262,0.73],[264,0.61],[266,0.54],[269,0.53],[271,0.43],[273,0.38],[275,0.73],[278,1.14],[280,1.41],
  [282,1.61],[285,1.68],[286,1.68],[288,1.61],[290,1.36],[293,1.12],[295,0.82],[297,0.58],[299,0.41],[302,0.24],[304,-0.01],
  [306,-0.21],[308,-0.29],[311,-0.33],[312,-0.32],[314,-0.22]
];

// axis ticks and labels
var priceTicks = [18, 20, 22, 24, 26, 28, 30, 32, 34, 36, 38, 40, 42, 44];
var rsiTicks = [30, 40, 50, 60, 70];
var macdTicks = [-1, 0, 1, 2];
var dayLabels = ['7','10','13','16','19','22','25','28','Jul','4','7','10','13','16','19','22','25','28'];
var firstLabelIdx = 16;   // June 7 00:00
var barsPerLabel = 18;    // every 3 days
var totalSlots = 338;     // candles plus empty space on the right
var legendChange = '\u22123.796 (\u221210.38%)';

var UP = '#0bbf9c', DOWN = '#f23a5b';
var TXT = '#131722';
var FONT = '"Liberation Sans", Arial, Helvetica, sans-serif';

var last = candles[candles.length - 1];

// time categories: 4h steps from June 4 08:00
var cats = [];
var t0 = Date.UTC(2025, 5, 4, 8, 0);
for (var i = 0; i < totalSlots; i++) {
  var d = new Date(t0 + i * 4 * 3600 * 1000);
  cats.push((d.getUTCMonth() + 1) + '-' + d.getUTCDate() + ' ' + d.getUTCHours() + ':00');
}
var labelAt = {};
dayLabels.forEach(function (s, k) { labelAt[firstLabelIdx + k * barsPerLabel] = s; });

var volData = volumes.map(function (v, i) {
  var c = candles[i];
  return { value: v, itemStyle: { color: c[1] >= c[0] ? '#7edcd2' : '#f7a0ac' } };
});
var histData = macdHist.map(function (v, i) {
  var p = i > 0 ? macdHist[i - 1] : 0;
  var col;
  if (v >= 0) col = v >= p ? '#26a69a' : '#b2dfdb';
  else col = v < p ? '#ff5252' : '#ffcdd2';
  return { value: v, itemStyle: { color: col } };
});

var grids = [
  { left: 12, width: 2706, top: 12, height: 706 },
  { left: 12, width: 2706, top: 718, height: 63 },
  { left: 12, width: 2706, top: 781, height: 257 },
  { left: 12, width: 2706, top: 1038, height: 262 }
];
grids.forEach(function (g) { g.containLabel = false; g.outerBoundsMode = 'none'; });

function xAx(k) {
  return {
    type: 'category', gridIndex: k, data: cats, boundaryGap: true,
    axisLine: { show: false }, axisTick: { show: false }, splitLine: { show: false },
    axisLabel: k === 3 ? {
      show: true, margin: 5, color: TXT, fontSize: 17.5, fontFamily: FONT,
      interval: function (idx) { return labelAt[idx] !== undefined; },
      formatter: function (val, idx) { return labelAt[idx] || ''; }
    } : { show: false }
  };
}
function yAx(k, min, max, ticks, dec) {
  return {
    type: 'value', gridIndex: k, position: 'right', min: min, max: max, scale: true,
    axisLine: { show: false }, axisTick: { show: false }, splitLine: { show: false },
    axisLabel: ticks ? {
      show: true, margin: 14, color: TXT, fontSize: 17.5, fontFamily: FONT,
      customValues: ticks,
      formatter: function (v) {
        if (ticks.indexOf(Math.round(v * 1000) / 1000) < 0) return '';
        return (v < 0 ? '\u2212' : '') + Math.abs(v).toFixed(dec);
      }
    } : { show: false }
  };
}

function txt(x, y, s, color, size, weight) {
  return { type: 'text', x: x, y: y, z: 120, silent: true,
    style: { text: s, fill: color, font: (weight || 'normal') + ' ' + size + 'px ' + FONT, verticalAlign: 'middle' } };
}
function ohlc(x, k, v) {
  return { type: 'text', x: x, y: 33, z: 120, silent: true,
    style: { text: '{k|' + k + '}{v|' + v + '}', verticalAlign: 'middle',
      rich: { k: { fill: TXT, font: '16px ' + FONT }, v: { fill: '#f23645', font: '16px ' + FONT } } } };
}

var chart = echarts.init(document.getElementById('chart'));
var option = {
  backgroundColor: '#ffffff',
  animation: false,
  grid: grids,
  xAxis: [xAx(0), xAx(1), xAx(2), xAx(3)],
  yAxis: [
    yAx(0, 16.901, 44.128, priceTicks, 3),
    yAx(1, 0, 63, null, 0),
    yAx(2, 25.83, 75.25, rsiTicks, 2),
    yAx(3, -1.5544, 2.2985, macdTicks, 3)
  ],
  series: [
    {
      type: 'custom', xAxisIndex: 0, yAxisIndex: 0, z: 1, silent: true, clip: true,
      data: [[0, bbUpper[0][1]]],
      renderItem: function (params, api) {
        var pts = [];
        bbUpper.forEach(function (p) { pts.push(api.coord(p)); });
        for (var k = bbLower.length - 1; k >= 0; k--) pts.push(api.coord(bbLower[k]));
        return { type: 'polygon', shape: { points: pts }, style: { fill: 'rgba(33,150,243,0.05)' } };
      }
    },
    { type: 'line', name: 'BB upper', xAxisIndex: 0, yAxisIndex: 0, data: bbUpper, showSymbol: false, z: 2,
      lineStyle: { color: '#b2b5be', width: 1.5 }, silent: true },
    { type: 'line', name: 'BB lower', xAxisIndex: 0, yAxisIndex: 0, data: bbLower, showSymbol: false, z: 2,
      lineStyle: { color: '#b2b5be', width: 1.5 }, silent: true },
    {
      type: 'candlestick', name: 'PUMP/IDR', xAxisIndex: 0, yAxisIndex: 0, data: candles, barWidth: 5, z: 3,
      itemStyle: { color: UP, color0: DOWN, borderColor: UP, borderColor0: DOWN, borderWidth: 1 },
      markLine: {
        silent: true, symbol: ['none', 'none'], animation: false,
        lineStyle: { color: '#f23645', type: [2, 3], width: 1.5 },
        label: { show: true, position: 'end', distance: 2, formatter: last[1].toFixed(3),
          color: '#ffffff', backgroundColor: '#f23645', padding: [4, 9, 3, 9], borderRadius: 2,
          fontSize: 17.5, fontFamily: FONT },
        data: [{ yAxis: last[1] }]
      }
    },
    { type: 'line', name: 'WMA 85', xAxisIndex: 0, yAxisIndex: 0, data: wma85, showSymbol: false, smooth: 0.3, z: 4,
      lineStyle: { color: '#ff9800', width: 3 }, silent: true },
    { type: 'line', name: 'WMA 75', xAxisIndex: 0, yAxisIndex: 0, data: wma75, showSymbol: false, smooth: 0.3, z: 4,
      lineStyle: { color: '#089981', width: 3 }, silent: true },
    { type: 'line', name: 'EMA 200', xAxisIndex: 0, yAxisIndex: 0, data: ema200, showSymbol: false, smooth: 0.3, z: 4,
      lineStyle: { color: '#000000', width: 4.5 }, silent: true },
    { type: 'line', name: 'EMA 5', xAxisIndex: 0, yAxisIndex: 0, data: ema5, showSymbol: false, z: 5,
      lineStyle: { color: '#2196f3', width: 4 }, silent: true },

    { type: 'bar', name: 'Volume', xAxisIndex: 1, yAxisIndex: 1, data: volData, barWidth: 5, silent: true },

    {
      type: 'line', name: 'RSI', xAxisIndex: 2, yAxisIndex: 2, data: rsi, showSymbol: false, silent: true, z: 3,
      lineStyle: { color: '#7e57c2', width: 1.5 },
      markArea: { silent: true, itemStyle: { color: 'rgba(126,87,194,0.1)' }, data: [[{ yAxis: 30 }, { yAxis: 70 }]] },
      markLine: { silent: true, symbol: ['none', 'none'], label: { show: false },
        lineStyle: { color: '#787b86', type: [4, 4], width: 1.3 },
        data: [{ yAxis: 70 }, { yAxis: 50 }, { yAxis: 30 }] }
    },

    { type: 'bar', name: 'Histogram', xAxisIndex: 3, yAxisIndex: 3, data: histData, barWidth: 6, silent: true },
    { type: 'line', name: 'MACD', xAxisIndex: 3, yAxisIndex: 3, data: macdLine, showSymbol: false, z: 3,
      lineStyle: { color: '#2196f3', width: 1.5 }, silent: true },
    { type: 'line', name: 'Signal', xAxisIndex: 3, yAxisIndex: 3, data: signalLine, showSymbol: false, smooth: 0.2, z: 3,
      lineStyle: { color: '#ff6d00', width: 1.5 }, silent: true }
  ],
  graphic: [
    { type: 'rect', z: 110, silent: true, shape: { x: 0, y: 0, width: 2831, height: 12 }, style: { fill: '#ffffff' } },
    { type: 'rect', z: 111, silent: true, shape: { x: 12, y: 12, width: 2805, height: 1320 },
      style: { fill: 'none', stroke: '#e0e3eb', lineWidth: 2 } },
    { type: 'line', z: 111, silent: true, shape: { x1: 12, y1: 718, x2: 2817, y2: 718 }, style: { stroke: '#e0e3eb', lineWidth: 2 } },
    { type: 'line', z: 111, silent: true, shape: { x1: 12, y1: 781, x2: 2817, y2: 781 }, style: { stroke: '#e0e3eb', lineWidth: 2 } },
    { type: 'line', z: 111, silent: true, shape: { x1: 12, y1: 1038, x2: 2817, y2: 1038 }, style: { stroke: '#e0e3eb', lineWidth: 2 } },

    txt(25, 33, 'PUMP/IDR, 4h', TXT, 16),
    ohlc(139, 'O', last[0].toFixed(3)),
    ohlc(211, 'H', last[3].toFixed(3)),
    ohlc(283, 'L', last[2].toFixed(3)),
    ohlc(354, 'C', last[1].toFixed(3)),
    txt(425, 33, legendChange, '#f23645', 16),
    txt(25, 57, 'EMA (5, close, 0, SMA, 9)', TXT, 16),
    txt(25, 80, 'EMA (200, close, 0, SMA, 9)', TXT, 16),
    txt(25, 103, 'WMA (75, close, 0)', TXT, 16),
    txt(25, 126, 'WMA (85, close, 0)', TXT, 16),
    txt(25, 149, 'BB (25, 2)', TXT, 16),
    txt(25, 740, 'Volume (SMA, 9)', TXT, 16),
    txt(25, 803, 'RSI (15, SMA, 15)', TXT, 16),
    txt(25, 1060, 'MACD (12, 26, close, 9)', TXT, 16),

    // TradingView mark
    { type: 'polygon', z: 120, silent: true,
      shape: { points: [[13, 1349], [23, 1349], [23, 1363], [18, 1363], [18, 1354], [13, 1354]] }, style: { fill: TXT } },
    { type: 'circle', z: 120, silent: true, shape: { cx: 27.5, cy: 1351.5, r: 2.6 }, style: { fill: TXT } },
    { type: 'polygon', z: 120, silent: true,
      shape: { points: [[32, 1349], [38, 1349], [32, 1363], [26, 1363]] }, style: { fill: TXT } },
    txt(43, 1357, 'TradingView', TXT, 17, 'bold')
  ]
};
chart.setOption(option);
</script>
</body>
</html>
